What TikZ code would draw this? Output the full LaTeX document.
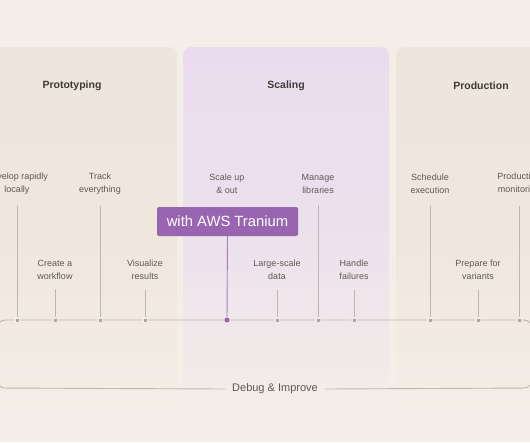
\documentclass[tikz,border=0pt]{standalone}
\usepackage{fontspec}
\setmainfont{Liberation Sans}
\definecolor{bg}{HTML}{F4EEE8}
\definecolor{panelA}{HTML}{EEE5DC}
\definecolor{panelB}{HTML}{EADCEE}
\definecolor{purp}{HTML}{9A65B0}
\definecolor{purpline}{HTML}{A57BBF}
\definecolor{titlec}{HTML}{3F3B39}
\definecolor{labc}{HTML}{5E5955}
\definecolor{linec}{HTML}{BEB7B0}
\definecolor{dotc}{HTML}{ADA7A2}
\tikzset{
  title/.style={font=\fontsize{10.5}{12}\selectfont\bfseries, text=titlec, inner sep=0pt},
  lab/.style={font=\fontsize{9}{13}\selectfont, text=labc, align=center, inner sep=0pt},
  vline/.style={draw=linec, line width=0.7pt},
  tline/.style={draw=linec, line width=0.9pt},
  dotsq/.style={rectangle, fill=dotc, minimum size=4.2pt, inner sep=0pt},
  ringA/.style={draw=panelA!45!bg, line width=1.2pt},
  ringB/.style={draw=panelB!40!bg, line width=1.2pt},
  pdot/.style={circle, fill=purp, minimum size=5pt, inner sep=0pt},
  awsbox/.style={rectangle, rounded corners=2pt, fill=purp, text=white,
    font=\fontsize{14.8}{16}\selectfont, minimum width=141pt, minimum height=29pt, inner sep=0pt},
  dbgtext/.style={font=\fontsize{11}{13}\selectfont, text=labc, inner sep=7pt},
}
\begin{document}
\begin{tikzpicture}[x=1pt,y=-1pt]
\useasboundingbox (0,0) rectangle (530,442);
\clip (0,0) rectangle (530,442);
\fill[bg] (0,0) rectangle (530,442);
% panels
\shade[rounded corners=8pt, top color=panelA, bottom color=bg, middle color=panelA!85!bg] (-30,47) rectangle (177,415);
\shade[rounded corners=8pt, top color=panelB, bottom color=bg, middle color=panelB!75!bg] (183,47) rectangle (389,415);
\shade[rounded corners=8pt, top color=panelA, bottom color=bg, middle color=panelA!85!bg] (396,47) rectangle (560,415);
% titles
\node[title] (tproto) at (72,86) {Prototyping};
\node[title] (tscale) at (286,86) {Scaling};
\node[title] (tprod) at (481,86) {Production};
% timeline
\node[dbgtext] (dbg) at (275,389) {Debug \& Improve};
\draw[tline, rounded corners=8pt] (dbg.west) -- (-3,388) -- (-3,320) -- (532,320) -- (532,388) -- (dbg.east);
% dots
\node[dotsq, ringA] (d1) at (17,320) {};
\node[dotsq, ringA] (d2) at (55,320) {};
\node[dotsq, ringA] (d3) at (100,320) {};
\node[dotsq, ringA] (d4) at (145,320) {};
\node[pdot] (d5) at (227,320) {};
\node[dotsq, ringB] (d6) at (277,320) {};
\node[dotsq, ringB] (d7) at (318,320) {};
\node[dotsq, ringB] (d8) at (354,320) {};
\node[dotsq, ringA] (d9) at (430,320) {};
\node[dotsq, ringA] (d10) at (478,320) {};
\node[dotsq, ringA] (d11) at (519,320) {};
% labels
\node[lab] (l1) at (17,183.5) {Develop rapidly\\locally};
\node[lab] (l2) at (55,269.5) {Create a\\workflow};
\node[lab] (l3) at (100,183.5) {Track\\everything};
\node[lab] (l4) at (145,269.5) {Visualize\\results};
\node[lab] (l5) at (227,183.5) {Scale up\\\& out};
\node[lab] (l6) at (277,269.5) {Large-scale\\data};
\node[lab] (l7) at (318,183.5) {Manage\\libraries};
\node[lab] (l8) at (354,269.5) {Handle\\failures};
\node[lab] (l9) at (430,183.5) {Schedule\\execution};
\node[lab] (l10) at (478,269.5) {Prepare for\\variants};
\node[lab] (l11) at (519,183.5) {Production\\monitoring};
\node[awsbox] (aws) at (227.5,221.5) {with AWS Tranium};
% vertical connectors
\foreach \a/\b in {l1/d1,l3/d3,l7/d7,l9/d9,l11/d11}
  \draw[vline, shorten <=12pt, shorten >=3pt] (\a.south) -- (\b.center);
\foreach \a/\b in {l2/d2,l4/d4,l6/d6,l8/d8,l10/d10}
  \draw[vline, shorten <=10pt, shorten >=3pt] (\a.south) -- (\b.center);
\draw[draw=purpline, line width=0.9pt] (aws.south) -- (d5);
\end{tikzpicture}
\end{document}
